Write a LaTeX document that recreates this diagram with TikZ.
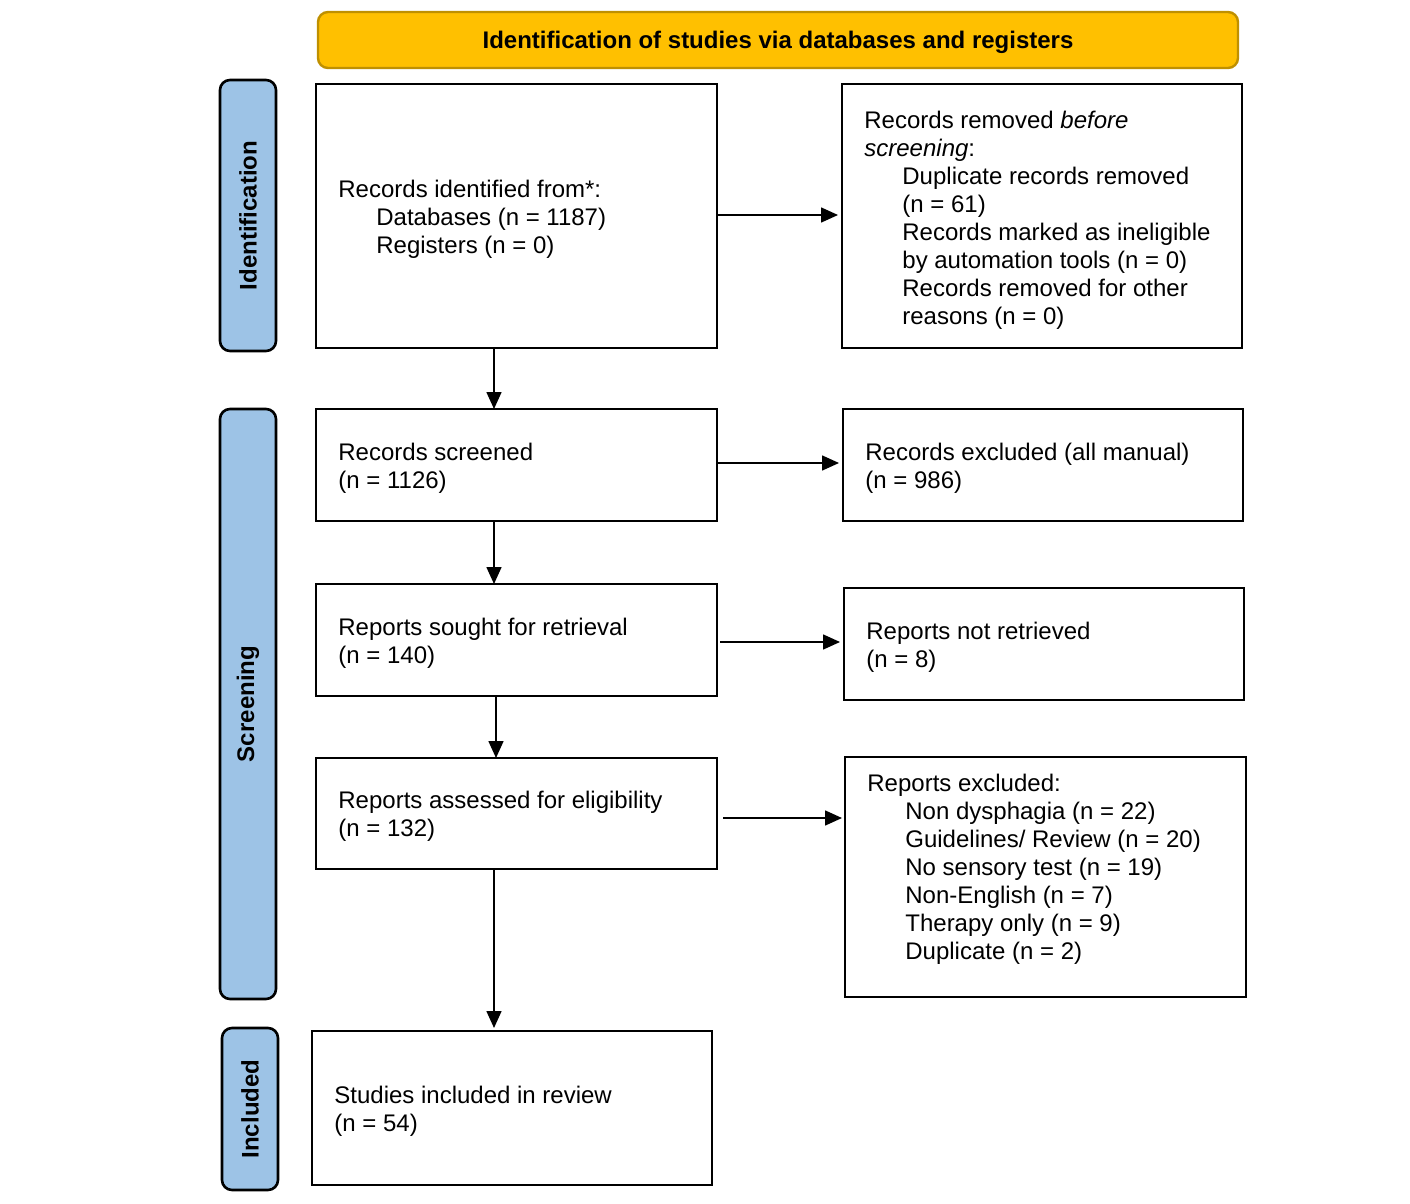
\documentclass[tikz,border=0pt]{standalone}
\usepackage{fontspec}
\setmainfont{Liberation Sans}
\usetikzlibrary{arrows.meta}
\definecolor{bannerfill}{HTML}{FFC000}
\definecolor{bannerdraw}{HTML}{BF9000}
\definecolor{sidefill}{HTML}{9DC3E6}
\begin{document}
\begin{tikzpicture}[x=0.5pt,y=-0.5pt,
  box/.style={draw=black, line width=1.3pt, fill=white, inner sep=0pt, outer sep=0pt},
  txt/.style={anchor=west, align=left, inner sep=0pt, font=\fontsize{12}{14}\selectfont},
  side/.style={draw=black, line width=1.3pt, fill=sidefill, rounded corners=5pt, inner sep=0pt, outer sep=0pt, minimum width=28pt},
  sidetxt/.style={rotate=90, font=\fontsize{12}{14}\selectfont\bfseries, inner sep=0pt},
  arr/.style={line width=0.8pt, -{Triangle[length=8.5pt,width=7.5pt]}}
]
\useasboundingbox (0,0) rectangle (1410,1204);
\fill[white] (0,0) rectangle (1410,1204);

% banner
\node[draw=bannerdraw, line width=1.2pt, fill=bannerfill, rounded corners=5pt,
      minimum width=460pt, minimum height=28pt, inner sep=0pt,
      font=\fontsize{12}{14}\selectfont\bfseries] (banner) at (778,40) {};
\node[font=\fontsize{12}{14}\selectfont\bfseries, inner sep=0pt] (bannert)
      at ([yshift=-1pt]banner.center) {Identification of studies via databases and registers};

% side labels
\node[side, minimum height=135.5pt] (idlab) at (248,215.5) {};
\node[sidetxt] (idtxt) at (idlab.center) {Identification};
\node[side, minimum height=295pt] (scrlab) at (248,704) {};
\node[sidetxt] (scrtxt) at (scrlab.center) {Screening};
\node[side, minimum height=81pt] (inclab) at (250,1109) {};
\node[sidetxt] (inctxt) at (inclab.center) {Included};

% boxes
\node[box, minimum width=200.5pt, minimum height=132pt] (b1) at (516.5,216) {};
\node[txt] (b1t) at ([xshift=11pt,yshift=-1.5pt]b1.west)
  {Records identified from*:\\\hspace*{19pt}Databases (n = 1187)\\\hspace*{19pt}Registers (n = 0)};

\node[box, minimum width=200pt, minimum height=132pt] (rem) at (1042,216) {};
\node[txt] (remt) at ([xshift=11pt,yshift=-2pt]rem.west)
  {Records removed \emph{before}\\\emph{screening}:\\
   \hspace*{19pt}Duplicate records removed\\\hspace*{19pt}(n = 61)\\
   \hspace*{19pt}Records marked as ineligible\\\hspace*{19pt}by automation tools (n = 0)\\
   \hspace*{19pt}Records removed for other\\\hspace*{19pt}reasons (n = 0)};

\node[box, minimum width=200.5pt, minimum height=56pt] (scr) at (516.5,465) {};
\node[txt] (scrt) at ([xshift=11pt,yshift=-1.5pt]scr.west) {Records screened\\(n = 1126)};

\node[box, minimum width=200pt, minimum height=56pt] (exc) at (1043,465) {};
\node[txt] (exct) at ([xshift=11pt,yshift=-1.5pt]exc.west) {Records excluded (all manual)\\(n = 986)};

\node[box, minimum width=200.5pt, minimum height=56pt] (sou) at (516.5,640) {};
\node[txt] (sout) at ([xshift=11pt,yshift=-1.5pt]sou.west) {Reports sought for retrieval\\(n = 140)};

\node[box, minimum width=200pt, minimum height=56pt] (nr) at (1044,644) {};
\node[txt] (nrt) at ([xshift=11pt,yshift=-1.5pt]nr.west) {Reports not retrieved\\(n = 8)};

\node[box, minimum width=200.5pt, minimum height=55.5pt] (ass) at (516.5,813.5) {};
\node[txt] (asst) at ([xshift=11pt,yshift=-1.5pt]ass.west) {Reports assessed for eligibility\\(n = 132)};

\node[box, minimum width=200.5pt, minimum height=120pt] (rex) at (1045.5,877) {};
\node[txt] (rext) at ([xshift=11pt,yshift=4pt]rex.west)
  {Reports excluded:\\
   \hspace*{19pt}Non dysphagia (n = 22)\\
   \hspace*{19pt}Guidelines/ Review (n = 20)\\
   \hspace*{19pt}No sensory test (n = 19)\\
   \hspace*{19pt}Non-English (n = 7)\\
   \hspace*{19pt}Therapy only (n = 9)\\
   \hspace*{19pt}Duplicate (n = 2)};

\node[box, minimum width=200pt, minimum height=77pt] (inc) at (512,1108) {};
\node[txt] (inct) at ([xshift=11pt,yshift=-1.5pt]inc.west) {Studies included in review\\(n = 54)};

% connector columns
\coordinate (colA) at (494,0);
\coordinate (colB) at (496,0);

% arrows
\draw[arr] (b1.east |- 0,215) -- ([xshift=-2pt]rem.west |- 0,215);
\draw[arr] (b1.south -| colA) -- (scr.north -| colA);
\draw[arr] (scr.east |- 0,463) -- ([xshift=-2pt]exc.west |- 0,463);
\draw[arr] (scr.south -| colA) -- (sou.north -| colA);
\draw[arr] ([xshift=1.5pt]sou.east |- 0,642) -- ([xshift=-2pt]nr.west |- 0,642);
\draw[arr] (sou.south -| colB) -- (ass.north -| colB);
\draw[arr] ([xshift=3pt]ass.east |- 0,818) -- ([xshift=-1.5pt]rex.west |- 0,818);
\draw[arr] (ass.south -| colA) -- ([yshift=1.5pt]inc.north -| colA);
\end{tikzpicture}
\end{document}
